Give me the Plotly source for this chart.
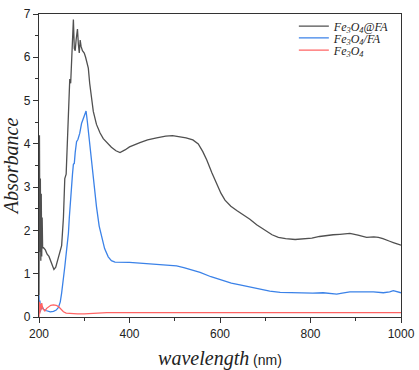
import plotly.graph_objects as go

# Fe3O4@FA
wl_a = [200, 201, 202, 203, 204, 205, 206, 207, 208, 210, 214, 218, 222, 226, 230, 233, 237, 241, 245, 250,
        254, 257, 260, 263, 265, 267, 268, 270, 272, 274, 276, 278, 280, 282, 285, 287, 289, 291, 293, 296,
        300, 303, 306, 309, 312, 316, 320, 327, 335, 342, 350, 360, 370, 379, 390, 400, 423, 440, 460, 480,
        495, 510, 525, 540, 552, 562, 571, 582, 593, 602, 611, 624, 637, 650, 666, 681, 700, 715, 729, 745,
        766, 785, 803, 820, 836, 850, 865, 887, 905, 924, 940, 950, 960, 968, 975, 983, 990, 1000]
abs_a = [0.5, 4.2, 1.5, 3.2, 1.3, 2.85, 1.4, 2.3, 1.6, 1.6, 1.55, 1.45, 1.4, 1.3, 1.2, 1.1, 1.15, 1.3, 1.45, 1.65,
         2.3, 3.2, 3.3, 4.1, 4.45, 5.4, 5.5, 5.4, 5.9, 6.3, 6.87, 6.2, 6.15, 6.4, 6.65, 6.3, 6.1, 6.4, 6.25, 6.15,
         6.1, 6.0, 5.9, 5.75, 5.4, 5.0, 4.75, 4.45, 4.25, 4.12, 4.02, 3.92, 3.84, 3.8, 3.86, 3.93, 4.03, 4.09, 4.14, 4.18,
         4.19, 4.17, 4.14, 4.09, 4.0, 3.82, 3.62, 3.33, 3.05, 2.86, 2.70, 2.56, 2.46, 2.37, 2.26, 2.13, 2.0, 1.9, 1.84, 1.81,
         1.79, 1.80, 1.82, 1.86, 1.89, 1.9, 1.91, 1.93, 1.89, 1.84, 1.85, 1.84, 1.81, 1.77, 1.75, 1.72, 1.70, 1.66]

# Fe3O4/FA
wl_b = [200, 201, 202, 203, 204, 205, 207, 210, 215, 220, 225, 232, 238, 243, 247, 250, 254, 257, 261, 265,
        267, 268, 270, 272, 274, 276, 278, 280, 283, 286, 290, 294, 298, 302, 304, 307, 311, 315, 320, 327,
        333, 338, 345, 353, 360, 368, 380, 400, 430, 460, 482, 504, 520, 540, 556, 580, 607, 625, 644, 665,
        688, 710, 733, 760, 784, 805, 828, 845, 858, 870, 887, 910, 939, 961, 975, 983, 992, 1000]
abs_b = [0.5, 0.1, 0.38, 0.12, 0.3, 0.18, 0.25, 0.18, 0.15, 0.13, 0.12, 0.13, 0.16, 0.22, 0.35, 0.55, 0.85, 1.16, 1.55, 1.93,
         2.3, 2.47, 2.6, 3.0, 3.3, 3.53, 3.55, 3.8, 4.05, 4.1, 4.24, 4.47, 4.58, 4.7, 4.76, 4.5, 4.09, 3.7, 3.24, 2.55,
         2.1, 1.85, 1.58, 1.39, 1.3, 1.27, 1.26, 1.26, 1.24, 1.22, 1.20, 1.18, 1.14, 1.08, 1.03, 0.93, 0.84, 0.78, 0.74, 0.69,
         0.64, 0.60, 0.57, 0.56, 0.55, 0.55, 0.56, 0.55, 0.53, 0.55, 0.58, 0.58, 0.58, 0.56, 0.58, 0.61, 0.59, 0.56]

# Fe3O4
wl_c = [200, 201, 202, 203, 204, 206, 208, 210, 213, 217, 221, 226, 232, 238, 243, 248, 254, 260, 268, 285,
        300, 320, 350, 400, 500, 600, 700, 800, 900, 1000]
abs_c = [0.0, 0.35, 0.08, 0.3, 0.15, 0.32, 0.2, 0.17, 0.14, 0.2, 0.24, 0.27, 0.28, 0.27, 0.24, 0.18, 0.12, 0.09, 0.08, 0.07,
         0.07, 0.08, 0.1, 0.1, 0.1, 0.1, 0.1, 0.1, 0.1, 0.1]

names = ["<i>Fe<sub>3</sub>O<sub>4</sub>@FA</i>", "<i>Fe<sub>3</sub>O<sub>4</sub>/FA</i>", "<i>Fe<sub>3</sub>O<sub>4</sub></i>"]
colors = ["#505050", "#3b82e8", "#ff6464"]
legend_ids = ["legend", "legend2", "legend3"]
legend_y = [0.960, 0.921, 0.881]

serif = "Liberation Serif"

fig = go.Figure()
for x, y, n, c, lg in zip([wl_a, wl_b, wl_c], [abs_a, abs_b, abs_c], names, colors, legend_ids):
    fig.add_trace(go.Scatter(x=x, y=y, mode="lines", name=n, legend=lg,
                             line=dict(color=c, width=1.3)))

legend_style = dict(x=0.704, xanchor="left", yanchor="middle", bgcolor="rgba(0,0,0,0)",
                    font=dict(family=serif, size=12, color="#222"), itemwidth=30)
fig.update_layout(
    width=419, height=370,
    margin=dict(l=39, r=18, t=14, b=53),
    paper_bgcolor="white", plot_bgcolor="white",
    showlegend=True,
    legend=dict(y=legend_y[0], **legend_style),
    legend2=dict(y=legend_y[1], **legend_style),
    legend3=dict(y=legend_y[2], **legend_style),
    font=dict(family="Liberation Sans", size=12, color="#222"),
)
fig.update_xaxes(range=[200, 1000], dtick=200, tick0=200, showgrid=False, zeroline=False,
                 showline=True, linecolor="#333", linewidth=1.3, mirror=True, automargin=False,
                 ticks="outside", ticklen=5, tickcolor="#333", tickwidth=1,
                 minor=dict(dtick=100, ticks="outside", ticklen=3, tickcolor="#333"),
                 tickfont=dict(size=12),
                 title=dict(text='<span style="font-family:Liberation Serif;font-style:italic;font-size:20px">wavelength</span> (nm)',
                            font=dict(size=14)))
fig.update_yaxes(range=[0, 7], dtick=1, showgrid=False, zeroline=False,
                 showline=True, linecolor="#333", linewidth=1.3, mirror=True, automargin=False,
                 ticks="outside", ticklen=5, tickcolor="#333", tickwidth=1,
                 minor=dict(dtick=0.5, ticks="outside", ticklen=3, tickcolor="#333"),
                 tickfont=dict(size=12),
                 title=dict(text="<i>Absorbance</i>", font=dict(family=serif, size=20)))

fig.write_html("out.html", config={"displayModeBar": False},
               post_script="document.body.style.margin='0px';document.body.style.overflow='hidden';")
